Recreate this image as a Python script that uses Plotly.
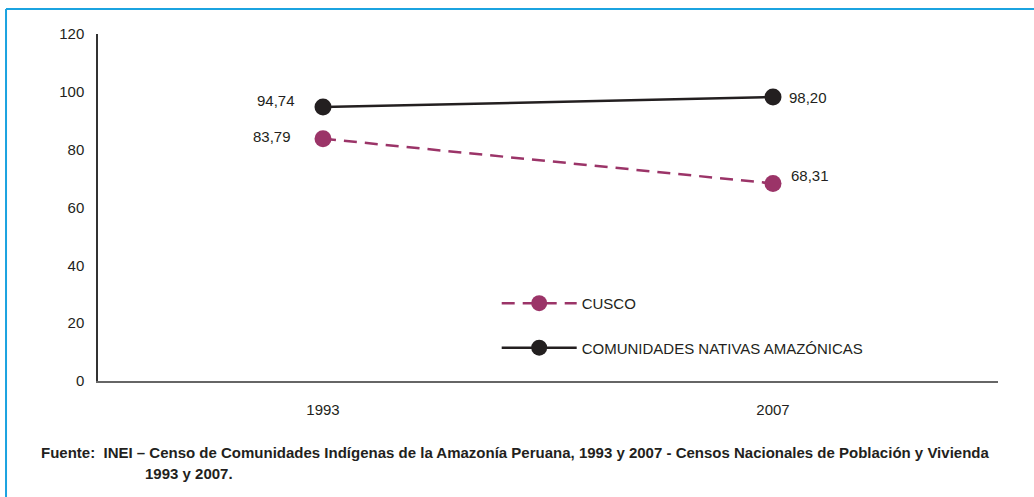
import plotly.graph_objects as go

# Data
years = ["1993", "2007"]
cusco = [83.79, 68.31]
nativas = [94.74, 98.20]

def fmt(v):
    return f"{v:.2f}".replace(".", ",")

font_family = "Liberation Sans, Arial, sans-serif"

fig = go.Figure()

fig.add_trace(go.Scatter(
    x=years, y=cusco,
    name="CUSCO",
    legendgroup="a",
    mode="lines+markers",
    line=dict(color="#9B3468", width=2.5, dash="13px,8px"),
    marker=dict(color="#9B3468", size=17),
))

fig.add_trace(go.Scatter(
    x=years, y=nativas,
    name="COMUNIDADES NATIVAS AMAZÓNICAS",
    legendgroup="b",
    mode="lines+markers",
    line=dict(color="#231F20", width=2.5),
    marker=dict(color="#231F20", size=17),
))

# Value labels (offsets in px from each point); x given as category index
label_offsets_cusco = [(-30, 2, "right"), (16, 8, "left")]
label_offsets_nativas = [(-26, 7, "right"), (14, 0, "left")]
for series, offsets in ((cusco, label_offsets_cusco), (nativas, label_offsets_nativas)):
    for i, (yv, (dx, dy, anchor)) in enumerate(zip(series, offsets)):
        fig.add_annotation(
            x=i, y=yv, text=fmt(yv), showarrow=False,
            xanchor=anchor, yanchor="middle", xshift=dx, yshift=dy,
            font=dict(size=15, color="#231F20", family=font_family),
        )

# Blue frame around the figure (left and top edges)
fig.add_shape(type="line", xref="paper", yref="paper",
              x0=-0.1022, x1=-0.1022, y0=-0.34, y1=1.072,
              line=dict(color="#1BA3E0", width=2))
fig.add_shape(type="line", xref="paper", yref="paper",
              x0=-0.1022, x1=1.05, y0=1.072, y1=1.072,
              line=dict(color="#1BA3E0", width=2))

fig.add_annotation(
    xref="paper", yref="paper", x=-0.0655, y=-0.205,
    xanchor="left", yanchor="middle", showarrow=False, align="left",
    text="<b>Fuente:  INEI – Censo de Comunidades Indígenas de la Amazonía Peruana, 1993 y 2007 - Censos Nacionales de Población y Vivienda</b>",
    font=dict(size=15, color="#231F20", family=font_family),
)
fig.add_annotation(
    xref="paper", yref="paper", x=0.0505, y=-0.266,
    xanchor="left", yanchor="middle", showarrow=False, align="left",
    text="<b>1993 y 2007.</b>",
    font=dict(size=15, color="#231F20", family=font_family),
)

fig.update_layout(
    width=1034, height=497,
    margin=dict(l=98, r=36, t=34, b=116),
    paper_bgcolor="white",
    plot_bgcolor="white",
    font=dict(family=font_family, size=15, color="#231F20"),
    showlegend=True,
    legend=dict(
        x=0.443, y=0.271, xanchor="left", yanchor="top",
        bgcolor="rgba(0,0,0,0)",
        font=dict(size=15, color="#231F20"),
        traceorder="grouped",
        tracegroupgap=22,
        itemwidth=75,
    ),
    xaxis=dict(
        type="category", range=[-0.5, 1.5],
        showline=True, linecolor="#666666", linewidth=2,
        showgrid=False, ticks="", zeroline=False,
        ticklabelstandoff=14,
    ),
    yaxis=dict(
        range=[0, 120], dtick=20, tick0=0,
        showline=True, linecolor="#333333", linewidth=1.5,
        showgrid=False, ticks="", zeroline=False,
        ticklabelstandoff=9,
    ),
)

fig.write_html("out.html", config={"displayModeBar": False},
               post_script="document.body.style.margin='0';")
